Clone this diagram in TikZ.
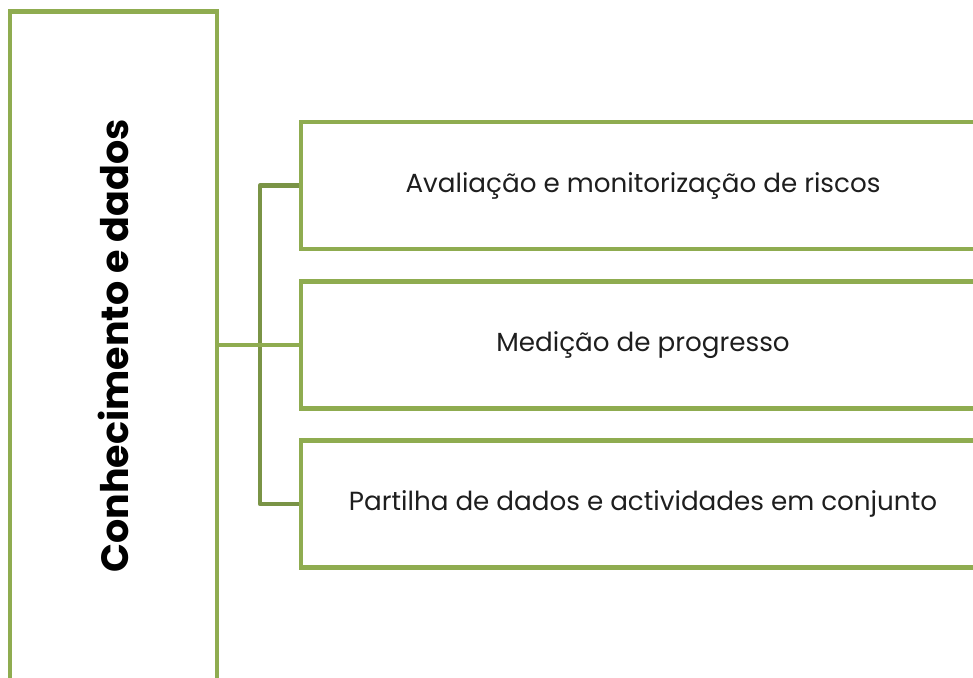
\documentclass[tikz,border=0pt]{standalone}
\usepackage{fontspec}
\setmainfont{Poppins}
\definecolor{boxgreen}{RGB}{143,172,80}
\definecolor{busgreen}{RGB}{122,148,70}
\definecolor{inkgray}{RGB}{30,30,30}

\begin{document}
\begin{tikzpicture}[x=1pt,y=-1pt,
    topic/.style={draw=boxgreen, line width=4.5pt, minimum width=684pt,
        minimum height=127pt, inner sep=0pt, text=inkgray,
        font=\fontsize{26.2}{30}\selectfont},
    theme/.style={draw=boxgreen, line width=4.5pt, minimum width=207pt,
        minimum height=669pt, inner sep=0pt, text=black,
        font=\fontsize{38}{44}\selectfont\bfseries},
    trunk/.style={draw=boxgreen, line width=4.5pt},
    branch/.style={draw=busgreen, line width=4.5pt, line join=round}]
    % Frame
    \useasboundingbox (0,0) rectangle (973,677);
    \clip (0,0) rectangle (973,677);
    % Left-hand box
    \node[theme] (know) at (113.5,346) {\rotatebox{90}{Conhecimento e dados}};
    % Right-hand boxes
    \node[topic] (aval) at (643,185.5) {Avaliação e monitorização de riscos};
    \node[topic] (med) at (643,345) {Medição de progresso};
    \node[topic] (part) at (643,504) {Partilha de dados e actividades em conjunto};
    % Connectors
    \coordinate (hub) at (260,345);
    \draw[branch] (aval.west) -- (aval.west -| hub) -- (part.west -| hub) -- (part.west);
    \draw[trunk] (know.east |- med.west) -- (med.west);
\end{tikzpicture}
\end{document}
